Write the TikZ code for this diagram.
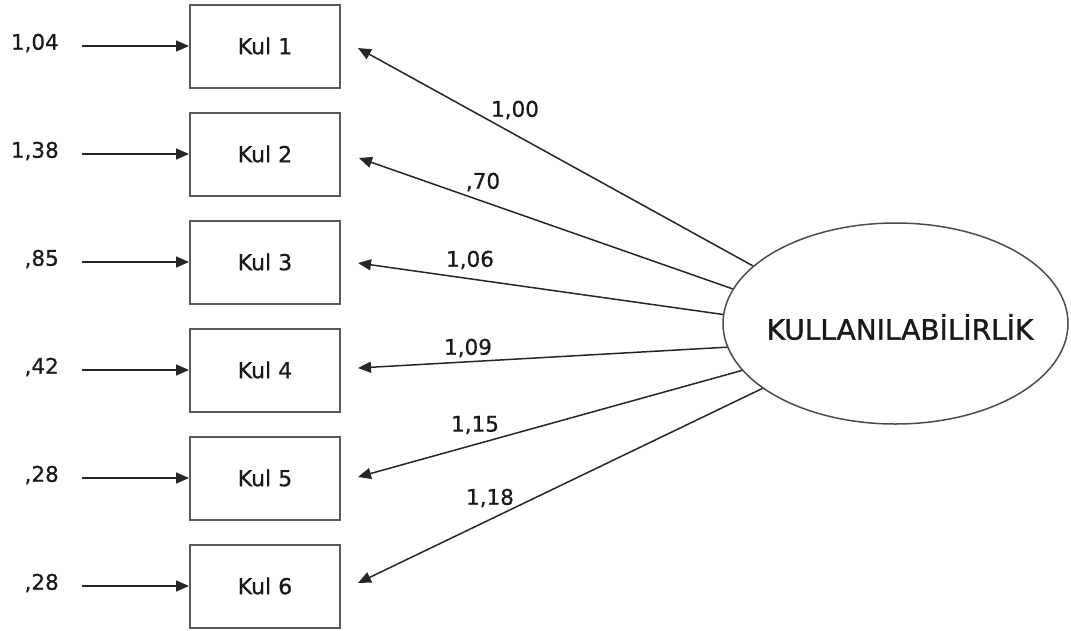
\documentclass[tikz,border=0pt]{standalone}
\usepackage{fontspec}
\setmainfont{DejaVu Sans}
\newfontfamily\lblfont{DejaVu Sans}[FakeBold=0.7]
\newfontfamily\factorfont{DejaVu Sans}[FakeBold=1.2]
\usetikzlibrary{arrows.meta,shapes.geometric}
\begin{document}
\begin{tikzpicture}[x=1pt,y=-1pt,
  every node/.style={text=black!90},
  item/.style={draw=black!65,line width=2pt,minimum width=150pt,minimum height=83pt,
    inner sep=0pt,font=\lblfont\fontsize{22}{26}\selectfont},
  latent/.style={ellipse,draw=black!70,line width=1.5pt,minimum width=345pt,
    minimum height=201pt,inner sep=0pt},
  factortext/.style={inner sep=0pt,font=\factorfont\fontsize{28}{32}\selectfont},
  val/.style={inner sep=0pt,font=\lblfont\fontsize{21.5}{25}\selectfont},
  arr/.style={draw=black!85,line width=1.5pt,-{Triangle[length=13pt,width=11pt]}}]
\useasboundingbox (0,0) rectangle (1071,630);

% observed indicators
\foreach \i/\y in {1/46,2/154,3/262,4/370,5/478,6/586}
  \node[item] (k\i) at (265,\y) {Kul \i};

% latent factor: outline and its name
\node[latent] (ell) at (895.5,323.5) {};
\node[factortext] (fname) at (900,327) {KULLANILABİLİRLİK};

% error terms
\foreach \i/\t in {1/{1,04},2/{1,38},3/{,85},4/{,42},5/{,28},6/{,28}}{
  \node[val,anchor=east] (e\i) at (59,{108*(\i-1)+43}) {\t};
  \coordinate (s\i) at (82,{108*(\i-1)+46});
  \draw[arr] (s\i) -- (k\i.west);
}

% arrow tips beside the indicators
\coordinate (t1) at (358,48);
\coordinate (t2) at (359,158);
\coordinate (t3) at (358,263);
\coordinate (t4) at (358,368);
\coordinate (t5) at (358,477);
\coordinate (t6) at (358,583);

% factor loadings
\draw[arr] (ell.158.1) -- (t1);
\draw[arr] (ell.168.4) -- (t2);
\draw[arr] (ell.177.9) -- (t3);
\draw[arr] (ell.188.6) -- (t4);
\draw[arr] (ell.197.3) -- (t5);
\draw[arr] (ell.206.5) -- (t6);

\node[val] (w1) at (515,110) {1,00};
\node[val] (w2) at (483,182) {,70};
\node[val] (w3) at (470,260) {1,06};
\node[val] (w4) at (468,348) {1,09};
\node[val] (w5) at (475,425) {1,15};
\node[val] (w6) at (490,498) {1,18};
\end{tikzpicture}
\end{document}
